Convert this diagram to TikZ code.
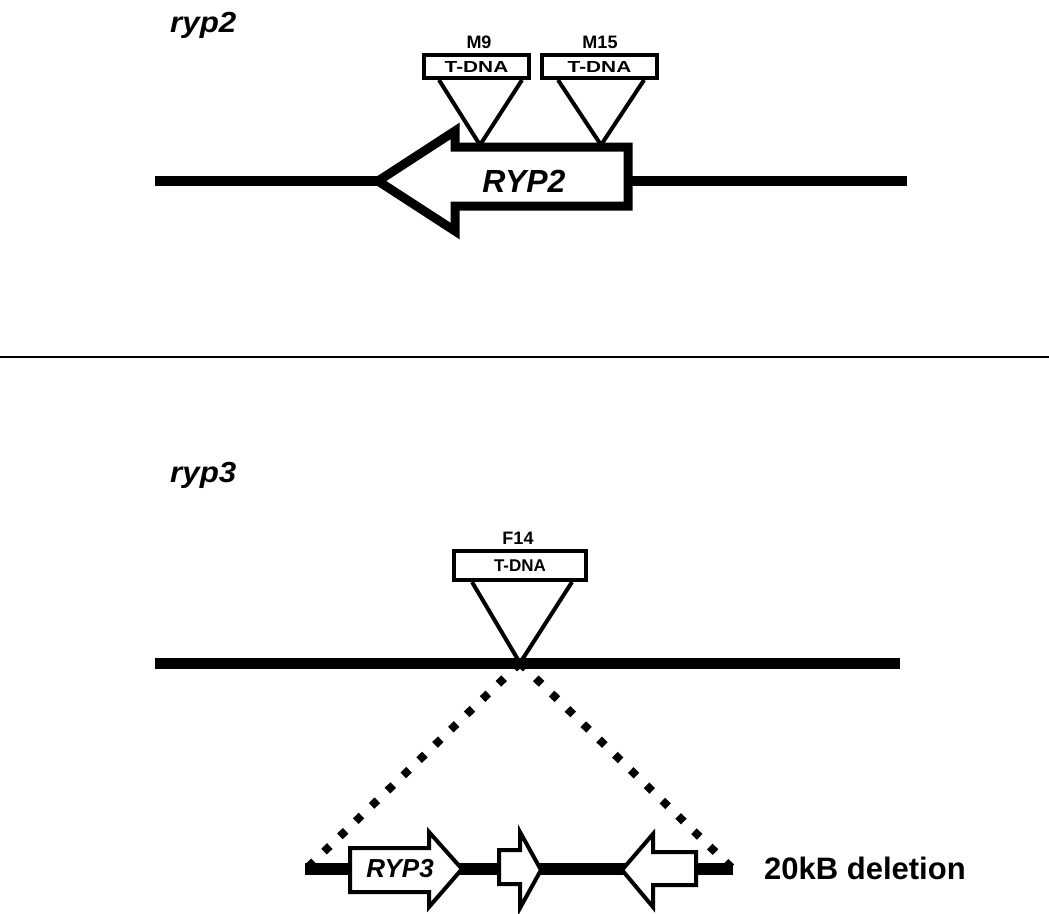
\documentclass[tikz,border=0pt]{standalone}
\usepackage{fontspec}
\setmainfont{Liberation Sans}
\newcommand{\myfs}[1]{\fontsize{#1}{#1}\selectfont}
\begin{document}
\begin{tikzpicture}[x=1pt,y=-1pt,
  dna/.style={line width=10.5pt},
  genebig/.style={draw, fill=white, line width=9pt, line join=miter, miter limit=20},
  genesmall/.style={draw, fill=white, line width=4pt, line join=miter, miter limit=20},
  tbox/.style={draw, fill=white, line width=4pt, inner sep=0pt, minimum height=23pt},
  tri/.style={line width=4pt, line join=miter},
  lbl/.style={inner sep=0pt, anchor=base, font=\bfseries\myfs{18}},
  ital/.style={inner sep=0pt, anchor=base west, font=\bfseries\itshape\myfs{29}},
  dots/.style={line width=8pt, dash pattern=on 8pt off 14pt}
]
\useasboundingbox (0,0) rectangle (1049,913);

% ---------- top: ryp2 ----------
\node[ital] (ryp2) at (170,32) {\scalebox{1.08}[1]{ryp2}};
\coordinate (t0) at (155,181);
\coordinate (t1) at (907,181);
\draw[dna] (t0) -- (t1);

\node[tbox, minimum width=105pt] (m9box) at (476.5,66.5) {\myfs{16}\bfseries\scalebox{1.3}[1]{T-DNA}};
\node[tbox, minimum width=115pt] (m15box) at (599.5,66.5) {\myfs{16}\bfseries\scalebox{1.3}[1]{T-DNA}};
\node[lbl] (m9) at (479,48) {M9};
\node[lbl] (m15) at (600,48) {M15};

\coordinate (m9l) at (439,80);
\coordinate (m9r) at (522,80);
\coordinate (m9a) at (480,145);
\coordinate (m15l) at (558,80);
\coordinate (m15r) at (644,80);
\coordinate (m15a) at (601,145);
\draw[tri] (m9l) -- (m9a) -- (m9r);
\draw[tri] (m15l) -- (m15a) -- (m15r);

\draw[genebig] (628,147) -- (455,147) -- (455,131) -- (378,181) -- (455,231) -- (455,206) -- (628,206) -- cycle;
\node[inner sep=0pt, anchor=base, font=\bfseries\itshape\myfs{32}] (RYP2) at (524,192) {RYP2};

% ---------- separator ----------
\coordinate (s0) at (0,357);
\coordinate (s1) at (1049,357);
\draw[line width=2pt] (s0) -- (s1);

% ---------- bottom: ryp3 ----------
\node[ital] (ryp3) at (170,482) {\scalebox{1.08}[1]{ryp3}};

\coordinate (apex) at (520,663);
\coordinate (dl) at (306,869);
\coordinate (dr) at (733,869);
\draw[dots] (apex) -- (dl);
\draw[dots] (apex) -- (dr);

\coordinate (b0) at (155,663);
\coordinate (b1) at (900,663);
\draw[line width=11pt] (b0) -- (b1);

\node[tbox, minimum width=132pt, minimum height=29pt] (f14box) at (520,565.5) {\myfs{17}\bfseries T-DNA};
\node[lbl] (f14) at (518,544) {F14};
\coordinate (f14l) at (472,582);
\coordinate (f14r) at (572,582);
\draw[tri] (f14l) -- (apex) -- (f14r);

\coordinate (d0) at (305,869);
\coordinate (d1) at (733,869);
\draw[line width=12pt] (d0) -- (d1);

\draw[genesmall] (350,848) -- (429,848) -- (429,832) -- (462,869) -- (429,907) -- (429,892) -- (350,892) -- cycle;
\node[inner sep=0pt, anchor=base, font=\bfseries\itshape\myfs{26}] (RYP3) at (400,877) {RYP3};
\draw[genesmall] (499,850) -- (520,850) -- (520,832) -- (541,870) -- (520,908) -- (520,884) -- (499,884) -- cycle;
\draw[genesmall] (696,852) -- (653,852) -- (653,834) -- (622,870) -- (653,907) -- (653,885) -- (696,885) -- cycle;

\node[inner sep=0pt, anchor=base west, font=\bfseries\myfs{31}] (del) at (764,879) {20kB deletion};
\end{tikzpicture}
\end{document}
